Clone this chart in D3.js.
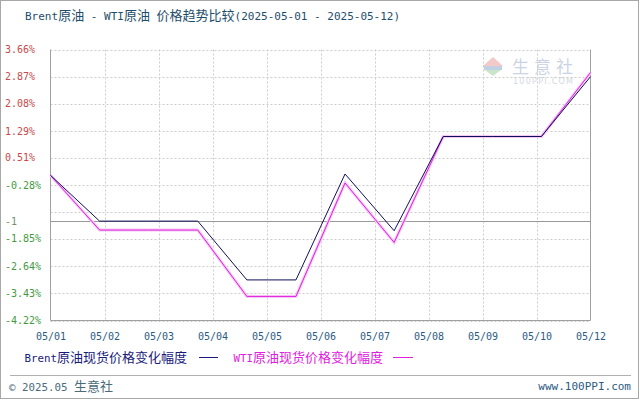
<!DOCTYPE html>
<html><head><meta charset="utf-8">
<script src="https://cdn.jsdelivr.net/npm/d3@7"></script>
<style>
html,body{margin:0;padding:0;background:#fff;}
svg{display:block;}
</style></head>
<body>
<svg id="chart" width="640" height="400"></svg>
<script>
// ---- data ----
const xLabels = ["05/01","05/02","05/03","05/04","05/05","05/06","05/07","05/08","05/09","05/10","05/12"];
const days = [1,2,3,4,5,6,7,8,9,10,11,12];
const brent = [0, -1.33, -1.33, -1.33, -3.04, -3.04, 0.04, -1.61, 1.13, 1.13, 1.13, 2.87];
const wti   = [0, -1.59, -1.59, -1.59, -3.52, -3.52, -0.22, -1.95, 1.13, 1.13, 1.13, 2.99];
const yTicks = [3.66, 2.87, 2.08, 1.29, 0.51, -0.28, -1.07, -1.85, -2.64, -3.43, -4.22];
const yTickLabels = ["3.66%","2.87%","2.08%","1.29%","0.51%","-0.28%","","-1.85%","-2.64%","-3.43%","-4.22%"];
const baseValue = -1.33;
const baseLabel = "-1";
const titleText = "Brent原油 - WTI原油 价格趋势比较(2025-05-01 - 2025-05-12)";
const seriesNames = ["Brent原油现货价格变化幅度", "WTI原油现货价格变化幅度"];

// ---- layout ----
const L = 50.5, R = 590.5, T = 49.5, B = 320.5;
const svg = d3.select("#chart");

function mixed(sel, str, latinSize, cjkSize) {
  const runs = [];
  for (const ch of str) {
    const cjk = /[\u3000-\u9fff\uff00-\uffef]/.test(ch);
    if (runs.length && runs[runs.length-1].cjk === cjk) runs[runs.length-1].t += ch;
    else runs.push({cjk, t: ch});
  }
  runs.forEach(r => {
    sel.append("tspan")
      .attr("font-family", r.cjk ? "'Noto Sans CJK SC'" : "'DejaVu Sans Mono'")
      .attr("font-size", r.cjk ? cjkSize : latinSize)
      .text(r.t);
  });
  return sel;
}

// outer frame
svg.append("rect").attr("x",0.5).attr("y",0.5).attr("width",638).attr("height",398)
  .attr("fill","#fff").attr("stroke","#a8a8a8");

// title
mixed(svg.append("text").attr("x",25).attr("y",19.5).attr("fill","#1e4d6b"), titleText, 11, 13);

const y = d3.scaleLinear().domain([-4.22, 3.66]).range([B, T]);
const xData = d3.scaleLinear().domain([1, 12]).range([L, R]);
const xLab = d3.scalePoint().domain(xLabels).range([L, R]);

// watermark
const wm = svg.append("g").attr("opacity",0.45);
wm.append("path").attr("d","M483,66 L493,57 L503,66 Z").attr("fill","#e88a8a");
wm.append("rect").attr("x",484).attr("y",66).attr("width",18).attr("height",4).attr("fill","#7a9ac0");
wm.append("path").attr("d","M485,70 L501,70 L493,76 Z").attr("fill","#8cc88c");
wm.append("text").attr("x",512).attr("y",73).attr("font-family","'Noto Sans CJK SC'")
  .attr("font-size",17).attr("letter-spacing",5).attr("fill","#8aa0c4").text("生意社");
wm.append("text").attr("x",513).attr("y",84).attr("font-family","'DejaVu Sans'")
  .attr("font-size",8).attr("fill","#a0a8b4").attr("textLength",60).text("100PPI.COM");

// horizontal grid
svg.append("g").selectAll("line").data(yTicks).join("line")
  .attr("x1",L).attr("x2",R)
  .attr("y1",d=>Math.round(y(d))+0.5).attr("y2",d=>Math.round(y(d))+0.5)
  .attr("stroke","#cccccc").attr("stroke-dasharray","2,2");
// vertical grid
svg.append("g").selectAll("line").data(xLabels.slice(1,-1)).join("line")
  .attr("x1",d=>Math.round(xLab(d))+0.5).attr("x2",d=>Math.round(xLab(d))+0.5)
  .attr("y1",T).attr("y2",B)
  .attr("stroke","#cccccc").attr("stroke-dasharray","2,2");

// baseline
svg.append("line").attr("x1",L).attr("x2",R)
  .attr("y1",Math.round(y(baseValue))+0.5).attr("y2",Math.round(y(baseValue))+0.5)
  .attr("stroke","#999");

// frame: left, bottom, right solid
svg.append("path").attr("d",`M${L},${T}V${B}H${R}V${T}`).attr("fill","none").attr("stroke","#a0a0a0");

// y labels
svg.append("g").selectAll("text").data(yTicks.map((v,i)=>({v, l:yTickLabels[i]})).filter(d=>d.l))
  .join("text").attr("x",5).attr("y",d=>y(d.v)).attr("dy","0.35em")
  .attr("font-family","'DejaVu Sans Mono'").attr("font-size",10)
  .attr("fill",d=>d.v>=0?"#c84a4a":"#3f9a3f").text(d=>d.l);
svg.append("text").attr("x",5).attr("y",y(baseValue)).attr("dy","0.35em")
  .attr("font-family","'DejaVu Sans Mono'").attr("font-size",10)
  .attr("fill","#6f916f").text(baseLabel);

// x axis labels
const xAxis = d3.axisBottom(xLab).tickSize(0).tickPadding(0);
const gx = svg.append("g").attr("transform",`translate(0,${B+16})`).call(xAxis);
gx.select(".domain").remove();
gx.selectAll("text").attr("font-family","'DejaVu Sans Mono'").attr("font-size",10)
  .attr("fill","#2b5b84").attr("dy","0.35em");

// lines
const line = vals => d3.line().x((d,i)=>xData(days[i])).y(d=>y(d))(vals);
svg.append("path").attr("d",line(wti)).attr("fill","none").attr("stroke","#f6c8f6").attr("stroke-width",3);
svg.append("path").attr("d",line(wti)).attr("fill","none").attr("stroke","#dd22dd").attr("stroke-width",1);
svg.append("path").attr("d",line(brent)).attr("fill","none").attr("stroke","#10105a").attr("stroke-width",1);

// legend
const lg = svg.append("g");
mixed(lg.append("text").attr("x",24.5).attr("y",362).attr("fill","#1a1a7a"), seriesNames[0], 10.8, 13);
lg.append("line").attr("x1",199).attr("x2",218).attr("y1",357.5).attr("y2",357.5).attr("stroke","#1a1a7a");
mixed(lg.append("text").attr("x",233.5).attr("y",362).attr("fill","#e020e0"), seriesNames[1], 10.8, 13);
lg.append("line").attr("x1",393).attr("x2",413).attr("y1",357.5).attr("y2",357.5).attr("stroke","#e020e0");

// footer
svg.append("line").attr("x1",10).attr("x2",631).attr("y1",375.5).attr("y2",375.5).attr("stroke","#b0b0b0");
mixed(svg.append("text").attr("x",9).attr("y",391).attr("fill","#4b6b7b"), "© 2025.05 生意社", 10.8, 13);
svg.append("text").attr("x",631).attr("y",390).attr("text-anchor","end")
  .attr("font-family","'DejaVu Sans Mono'").attr("font-size",11).attr("fill","#2b5b84").text("www.100PPI.com");
</script>
</body></html>
